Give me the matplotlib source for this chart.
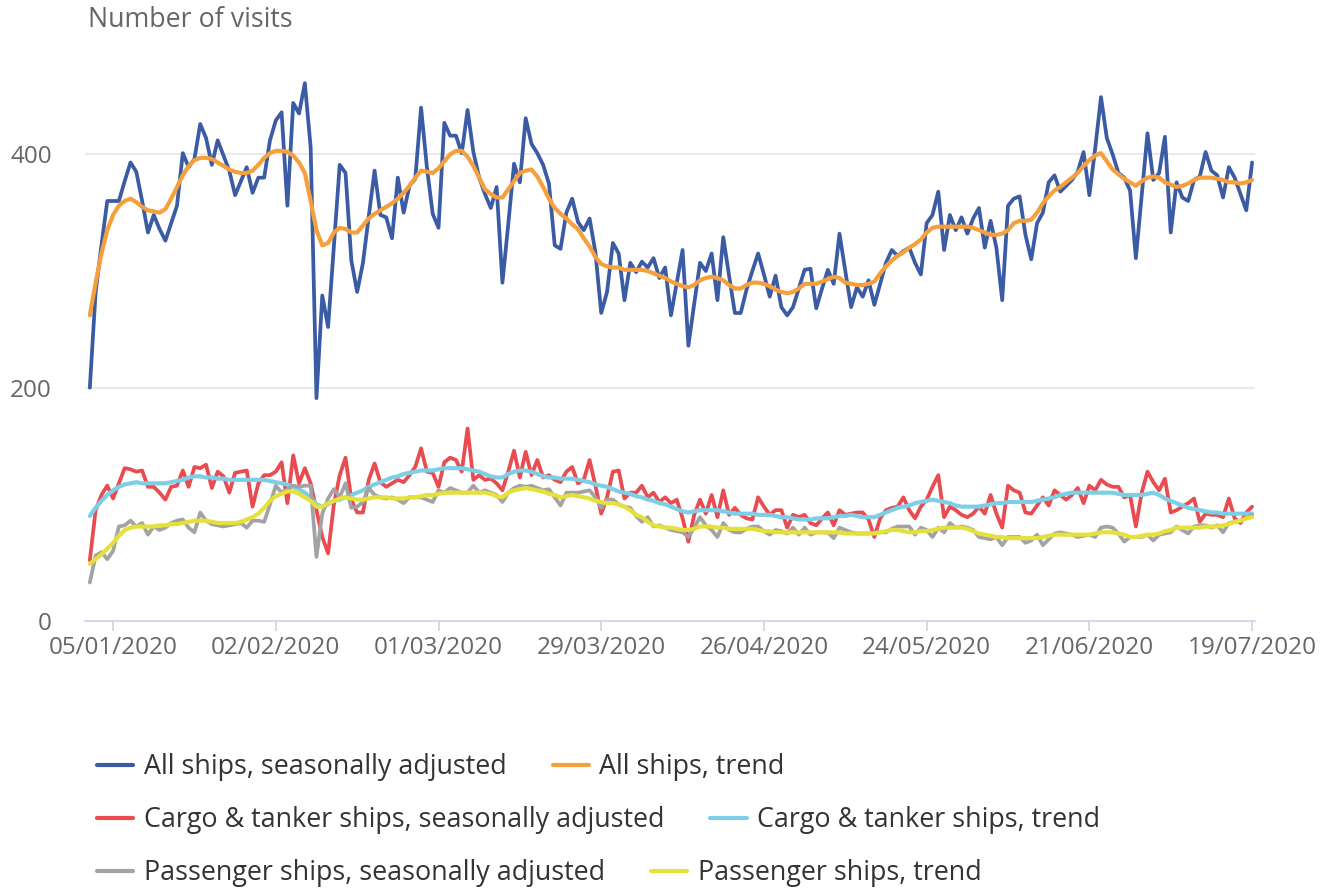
import datetime as dt

import pandas as pd
import matplotlib
matplotlib.use("Agg")
import matplotlib.pyplot as plt

plt.rcParams["font.family"] = ["Open Sans", "DejaVu Sans"]

START = "2020-01-01"

# daily values, 01/01/2020 .. 19/07/2020
all_sa = [
    200, 282, 322, 360, 360, 360, 377, 393, 385, 360,
    333, 348, 336, 326, 341, 356, 401, 389, 396, 426,
    414, 391, 412, 399, 386, 365, 377, 389, 367, 380,
    380, 412, 429, 436, 356, 444, 435, 461, 406, 191,
    279, 252, 322, 391, 384, 309, 282, 307, 347, 386,
    348, 346, 328, 380, 350, 373, 379, 440, 389, 349,
    337, 427, 416, 416, 401, 438, 402, 380, 366, 354,
    372, 290, 340, 392, 376, 431, 409, 401, 391, 375,
    322, 319, 350, 362, 342, 335, 345, 316, 264, 282,
    324, 315, 275, 307, 299, 308, 303, 311, 294, 303,
    262, 290, 318, 236, 272, 307, 300, 315, 275, 329,
    296, 264, 264, 284, 300, 315, 297, 278, 296, 269,
    262, 269, 285, 301, 302, 268, 285, 301, 289, 332,
    300, 269, 286, 278, 292, 271, 289, 307, 318, 313,
    317, 320, 307, 297, 341, 348, 368, 318, 348, 335,
    346, 332, 345, 354, 320, 343, 320, 275, 356, 362,
    364, 331, 310, 341, 350, 376, 382, 368, 373, 378,
    385, 402, 365, 405, 449, 414, 400, 384, 380, 369,
    311, 365, 418, 378, 384, 415, 333, 376, 363, 360,
    378, 381, 402, 386, 382, 363, 389, 380, 366, 352,
    393,
]
all_trend = [
    262, 290, 315, 335, 348, 356, 360, 362, 359, 355,
    352, 351, 350, 353, 362, 372, 382, 390, 395, 397,
    397, 396, 393, 390, 387, 385, 384, 384, 386, 391,
    397, 401, 403, 403, 402, 399, 393, 384, 360, 335,
    322, 324, 333, 337, 336, 333, 333, 339, 345, 349,
    352, 355, 358, 362, 367, 373, 380, 386, 385, 384,
    388, 394, 400, 403, 403, 398, 390, 380, 370, 366,
    363, 363, 370, 377, 384, 386, 387, 381, 372, 362,
    354, 349, 345, 340, 336, 328, 321, 312, 306, 304,
    303, 303, 301, 301, 301, 301, 300, 298, 296, 294,
    291, 289, 287, 286, 288, 292, 294, 295, 294, 292,
    288, 285, 285, 288, 290, 290, 289, 287, 284, 282,
    281, 282, 285, 289, 289, 289, 291, 293, 295, 294,
    290, 289, 288, 288, 289, 291, 298, 304, 309, 313,
    316, 320, 323, 327, 333, 337, 338, 338, 338, 338,
    338, 338, 337, 335, 333, 331, 331, 332, 335, 341,
    343, 343, 344, 350, 358, 364, 369, 372, 376, 380,
    384, 390, 395, 399, 401, 394, 387, 383, 379, 376,
    373, 377, 380, 381, 380, 376, 374, 372, 373, 375,
    378, 380, 380, 380, 379, 378, 376, 376, 375, 376,
    378,
]
cargo_sa = [
    52, 95, 108, 116, 105, 118, 131, 130, 128, 129,
    115, 115, 110, 104, 115, 116, 129, 115, 132, 131,
    134, 114, 128, 124, 110, 127, 128, 129, 98, 118,
    125, 125, 128, 136, 101, 142, 118, 131, 118, 95,
    72, 58, 100, 125, 140, 104, 93, 93, 121, 135,
    119, 115, 118, 121, 119, 125, 132, 148, 128, 127,
    115, 136, 140, 138, 128, 165, 121, 125, 121, 122,
    118, 112, 128, 146, 123, 145, 125, 138, 123, 125,
    121, 119, 128, 132, 118, 121, 138, 116, 92, 106,
    128, 129, 105, 110, 110, 116, 106, 110, 102, 106,
    101, 104, 88, 68, 91, 104, 92, 108, 89, 112,
    91, 97, 91, 88, 87, 106, 98, 91, 95, 95,
    80, 91, 89, 91, 84, 82, 88, 93, 82, 95,
    91, 92, 93, 93, 87, 72, 88, 95, 97, 98,
    106, 95, 88, 98, 104, 115, 125, 89, 98, 95,
    91, 89, 92, 98, 92, 108, 92, 80, 116, 112,
    110, 93, 92, 99, 106, 99, 112, 108, 104, 108,
    114, 101, 116, 112, 121, 117, 115, 115, 106, 108,
    81, 110, 128, 119, 112, 122, 93, 95, 98, 101,
    105, 85, 92, 91, 91, 89, 105, 88, 84, 93,
    98,
]
cargo_trend = [
    90, 97, 103, 108, 112, 115, 117, 118, 119, 118,
    118, 118, 118, 118, 119, 120, 121, 123, 124, 124,
    123, 123, 122, 122, 121, 121, 121, 121, 121, 121,
    121, 120, 119, 118, 117, 115, 113, 110, 106, 100,
    98, 100, 103, 104, 106, 108, 110, 112, 115, 117,
    119, 121, 123, 124, 126, 127, 128, 129, 129, 129,
    130, 131, 131, 131, 131, 130, 129, 128, 126, 124,
    123, 123, 126, 128, 129, 129, 128, 126, 124, 123,
    123, 122, 122, 122, 121, 120, 119, 117, 116, 115,
    113, 111, 110, 109, 107, 106, 104, 103, 101, 100,
    98, 96, 94, 93, 94, 95, 95, 95, 95, 94,
    93, 92, 92, 92, 92, 91, 91, 91, 90, 89,
    89, 88, 87, 87, 87, 88, 88, 88, 89, 90,
    90, 91, 90, 89, 89, 89, 91, 93, 95, 97,
    98, 99, 101, 102, 103, 104, 103, 102, 101, 99,
    98, 98, 98, 98, 99, 100, 101, 101, 102, 102,
    102, 102, 102, 103, 104, 105, 106, 108, 109, 110,
    110, 110, 110, 110, 110, 110, 110, 109, 108, 108,
    108, 108, 109, 110, 108, 105, 103, 101, 99, 97,
    96, 95, 94, 93, 93, 92, 92, 92, 92, 92,
    92,
]
passenger_sa = [
    33, 56, 59, 53, 60, 81, 82, 86, 81, 84,
    74, 81, 78, 80, 84, 86, 87, 80, 76, 93,
    86, 83, 82, 81, 82, 83, 84, 80, 86, 86,
    85, 100, 116, 110, 113, 116, 115, 116, 116, 55,
    92, 105, 113, 106, 118, 97, 98, 102, 114, 108,
    106, 105, 106, 104, 101, 106, 106, 106, 104, 102,
    112, 110, 114, 112, 110, 110, 116, 110, 112, 110,
    108, 102, 110, 114, 116, 115, 116, 114, 112, 113,
    106, 99, 110, 110, 110, 111, 112, 106, 97, 104,
    104, 100, 98, 97, 90, 85, 89, 81, 82, 80,
    78, 77, 76, 72, 80, 89, 82, 78, 72, 84,
    78, 76, 76, 79, 81, 81, 77, 74, 78, 77,
    75, 80, 74, 80, 74, 76, 76, 76, 71, 80,
    78, 76, 75, 75, 75, 76, 76, 76, 79, 81,
    81, 81, 74, 80, 78, 72, 80, 76, 84, 80,
    81, 80, 78, 72, 71, 70, 72, 65, 72, 72,
    72, 67, 69, 74, 65, 70, 75, 76, 75, 74,
    72, 73, 74, 72, 80, 81, 80, 75, 68, 72,
    72, 72, 74, 69, 74, 75, 76, 81, 78, 75,
    81, 82, 82, 80, 82, 76, 84, 85, 86, 88,
    91,
]
passenger_trend = [
    49, 53, 57, 62, 67, 73, 78, 80, 81, 81,
    81, 81, 82, 82, 83, 83, 84, 85, 86, 86,
    86, 85, 84, 84, 84, 84, 85, 87, 89, 92,
    97, 103, 107, 109, 111, 111, 109, 106, 103, 98,
    98, 101, 103, 105, 106, 105, 104, 104, 105, 106,
    106, 106, 105, 105, 105, 106, 106, 107, 108, 108,
    109, 110, 110, 110, 110, 110, 110, 110, 110, 109,
    107, 106, 110, 112, 113, 114, 113, 112, 111, 109,
    108, 106, 107, 108, 107, 106, 105, 103, 102, 101,
    101, 100, 98, 95, 91, 89, 85, 82, 81, 80,
    80, 79, 78, 78, 79, 81, 81, 81, 80, 80,
    79, 79, 79, 79, 79, 78, 77, 77, 76, 76,
    76, 76, 76, 76, 76, 76, 76, 76, 76, 76,
    75, 75, 75, 75, 75, 75, 76, 77, 78, 78,
    77, 76, 76, 77, 77, 78, 79, 80, 80, 80,
    80, 79, 77, 75, 74, 73, 72, 72, 71, 71,
    71, 71, 71, 71, 72, 73, 74, 74, 74, 74,
    74, 74, 74, 75, 76, 76, 76, 75, 74, 72,
    72, 73, 74, 74, 75, 77, 78, 80, 80, 80,
    80, 80, 81, 81, 81, 82, 83, 85, 86, 88,
    89,
]

LABELS = [
    "All ships, seasonally adjusted", "All ships, trend",
    "Cargo & tanker ships, seasonally adjusted", "Cargo & tanker ships, trend",
    "Passenger ships, seasonally adjusted", "Passenger ships, trend",
]
SERIES = [all_sa, all_trend, cargo_sa, cargo_trend, passenger_sa, passenger_trend]
COLORS = ["#3b5ba5", "#f5a03c", "#e84b50", "#7ccfe6", "#a3a3a3", "#e6e13a"]
WIDTHS = [2.7, 3.0, 2.7, 3.0, 2.7, 3.0]

dates = pd.date_range(START, periods=len(all_sa), freq="D")
tick_dates = pd.date_range("2020-01-05", "2020-07-19", freq="28D")

W, H = 1325, 888
fig = plt.figure(figsize=(W / 100, H / 100), dpi=100)
ax = fig.add_axes([85 / W, 1 - 621 / H, (1255 - 85) / W, (621 - 61) / H])

lines = []
for vals, lab, c, lw in zip(SERIES, LABELS, COLORS, WIDTHS):
    ln, = ax.plot(dates, vals, color=c, lw=lw, label=lab,
                  solid_joinstyle="round", solid_capstyle="round")
    lines.append(ln)

ax.set_xlim(dates[0] - dt.timedelta(days=0.83), dates[-1] + dt.timedelta(days=0.5))
ax.set_ylim(0, 480)
ax.set_yticks([0, 200, 400])
ax.set_xticks(tick_dates)
ax.set_xticklabels([d.strftime("%d/%m/%Y") for d in tick_dates])

for s in ["top", "right", "left"]:
    ax.spines[s].set_visible(False)
ax.spines["bottom"].set_color("#ccd6eb")
ax.spines["bottom"].set_linewidth(1.2)
ax.grid(axis="y", color="#e6e6e6", lw=1.2)
ax.set_axisbelow(True)
ax.tick_params(axis="x", length=7, width=1.2, color="#ccd6eb",
               labelcolor="#666666", labelsize=17.5, pad=4)
ax.tick_params(axis="y", length=0, labelcolor="#666666", labelsize=17.5, pad=24)

fig.text(88 / W, 1 - 20 / H, "Number of visits", color="#666666",
         fontsize=19.3, ha="left", va="center")

# flowing legend rows (two items per row)
rows_y = [767, 820, 873]
for r, y in enumerate(rows_y):
    hs = lines[2 * r:2 * r + 2]
    leg = fig.legend(handles=hs, labels=[h.get_label() for h in hs],
                     loc="center left", bbox_to_anchor=(97 / W, 1 - y / H),
                     ncol=2, frameon=False, fontsize=19.4, borderpad=0,
                     borderaxespad=0, handlelength=1.35, handletextpad=0.38,
                     columnspacing=1.72)
    for t in leg.get_texts():
        t.set_color("#333333")
    for h in leg.legend_handles:
        h.set_linewidth(3.0)

fig.savefig("out.png", dpi=100)
